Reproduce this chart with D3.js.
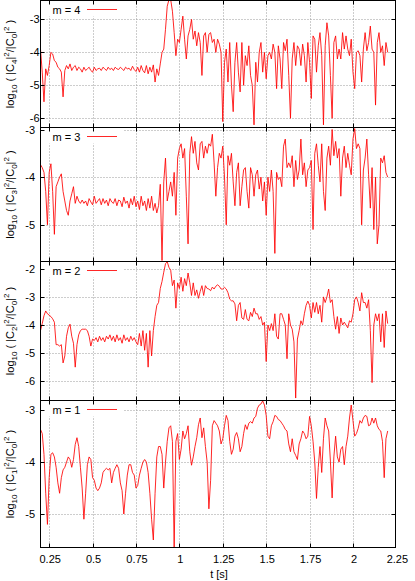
<!DOCTYPE html>
<html><head><meta charset="utf-8">
<script src="https://cdn.jsdelivr.net/npm/d3@7"></script>
<style>html,body{margin:0;padding:0;background:#fff;} svg{display:block;font-family:"Liberation Sans",Arial,Helvetica,sans-serif;}</style>
</head><body><svg id="chart" width="415" height="581"></svg>
<script>
// sampling of the time axis [s]
const tStart = 0.20, tStep = 0.01;

// log10(|C4|^2/|C0|^2)
const m4 = [
-3.9,-4.6,-5.5,-4.5,-4.7,-4.4,-4.0,-4.05,-4.25,-4.3,
-4.45,-4.5,-4.6,-5.35,-4.55,-4.4,-4.5,-4.35,-4.55,-4.45,
-4.4,-4.55,-4.45,-4.5,-4.6,-4.45,-4.55,-4.5,-4.45,-4.55,
-4.6,-4.45,-4.55,-4.5,-4.48,-4.55,-4.45,-4.5,-4.55,-4.45,
-4.52,-4.48,-4.55,-4.45,-4.5,-4.52,-4.45,-4.5,-4.55,-4.45,
-4.5,-4.48,-4.55,-4.42,-4.52,-4.58,-4.45,-4.6,-4.4,-4.55,
-4.62,-4.4,-4.65,-4.45,-4.6,-4.38,-4.9,-4.5,-4.7,-4.35,
-4.0,-3.9,-3.3,-2.6,-2.4,-2.4,-2.75,-3.4,-4.1,-3.6,
-3.7,-3.3,-2.9,-3.6,-4.2,-3.5,-3.3,-3.0,-3.6,-3.35,
-3.8,-3.4,-3.7,-4.7,-3.5,-3.4,-4.0,-3.45,-3.4,-3.7,
-3.6,-4.0,-3.6,-3.75,-4.0,-6.1,-4.3,-3.9,-4.9,-3.7,
-5.0,-5.8,-4.3,-3.7,-4.6,-5.2,-3.7,-5.0,-4.1,-4.4,
-3.8,-4.7,-5.0,-6.2,-4.3,-4.9,-4.0,-3.7,-4.6,-4.0,
-4.8,-4.1,-4.0,-4.2,-3.75,-4.0,-5.1,-3.8,-4.2,-5.1,
-3.7,-3.95,-3.6,-4.7,-6.0,-4.2,-3.7,-4.4,-3.8,-3.9,
-4.4,-3.75,-4.1,-4.9,-3.7,-4.3,-5.4,-3.5,-3.6,-4.6,
-3.8,-3.4,-4.1,-6.2,-3.8,-3.1,-3.5,-4.7,-6.0,-3.7,
-3.5,-4.2,-3.9,-4.2,-3.4,-3.9,-3.5,-3.9,-4.1,-3.6,
-4.6,-5.1,-4.0,-3.95,-4.1,-4.9,-3.9,-3.4,-3.95,-3.7,
-3.2,-3.9,-4.0,-5.6,-3.7,-3.4,-4.0,-3.8,-4.4,-3.7,
-4.0];

// log10(|C3|^2/|C0|^2)
const m3 = [
-3.74,-3.8,-3.9,-4.3,-5.0,-3.9,-3.72,-4.3,-5.2,-4.2,
-4.1,-4.0,-3.93,-4.3,-4.5,-4.7,-4.8,-4.5,-4.35,-4.2,
-4.55,-4.4,-4.5,-4.55,-4.48,-4.55,-4.5,-4.6,-4.45,-4.52,
-4.58,-4.4,-4.55,-4.5,-4.45,-4.58,-4.45,-4.55,-4.48,-4.6,
-4.45,-4.52,-4.55,-4.45,-4.6,-4.48,-4.5,-4.62,-4.42,-4.55,
-4.5,-4.65,-4.45,-4.58,-4.4,-4.62,-4.5,-4.68,-4.4,-4.6,
-4.5,-4.7,-4.45,-4.65,-4.4,-4.7,-4.55,-4.75,-4.6,-4.15,
-5.75,-4.1,-3.6,-4.5,-4.3,-4.1,-4.4,-3.9,-4.8,-3.6,
-3.4,-3.3,-3.6,-3.4,-4.4,-5.4,-3.5,-3.15,-3.5,-3.25,
-3.7,-3.85,-3.3,-3.25,-3.6,-3.35,-3.5,-3.3,-3.35,-3.1,
-3.7,-4.4,-3.8,-3.5,-3.6,-3.35,-4.0,-5.0,-3.55,-3.75,
-3.5,-4.1,-4.6,-3.9,-3.7,-4.6,-4.2,-3.85,-3.8,-4.3,
-4.65,-3.8,-3.95,-4.4,-3.95,-3.85,-4.25,-4.0,-4.5,-4.1,
-4.8,-4.0,-4.3,-3.85,-4.3,-5.6,-3.9,-4.05,-4.0,-4.2,
-3.35,-3.2,-3.8,-3.7,-3.8,-3.55,-4.2,-3.65,-4.05,-3.85,
-3.2,-3.95,-3.7,-4.2,-3.85,-3.8,-3.65,-5.1,-3.5,-3.3,
-3.75,-4.1,-3.3,-4.3,-4.7,-3.6,-3.35,-3.75,-3.0,-3.55,
-3.25,-3.6,-3.4,-4.4,-3.6,-3.35,-3.8,-3.5,-3.75,-3.95,
-3.2,-2.98,-3.4,-3.3,-3.4,-5.0,-3.85,-3.6,-3.2,-3.95,
-4.65,-3.8,-5.1,-4.0,-5.4,-5.0,-3.6,-3.7,-3.55,-3.9,
-4.0];

// log10(|C2|^2/|C0|^2)
const m2 = [
-4.2,-3.95,-3.67,-3.5,-3.6,-3.65,-3.7,-3.78,-3.9,-4.7,
-4.7,-4.75,-4.7,-5.35,-5.1,-4.4,-4.1,-3.97,-4.4,-4.65,
-5.5,-4.7,-4.35,-4.2,-4.15,-4.15,-4.15,-4.2,-4.4,-4.75,
-4.5,-4.55,-4.45,-4.6,-4.4,-4.55,-4.45,-4.6,-4.4,-4.5,
-4.35,-4.55,-4.4,-4.6,-4.35,-4.55,-4.45,-4.65,-4.35,-4.55,
-4.45,-4.6,-4.4,-4.55,-4.45,-4.6,-4.7,-4.3,-4.75,-4.2,
-4.9,-4.3,-5.5,-4.2,-5.1,-4.2,-3.7,-3.3,-3.2,-2.7,
-2.45,-2.12,-1.82,-1.75,-1.95,-2.05,-2.6,-2.4,-3.4,-2.5,
-2.7,-2.3,-2.8,-2.35,-2.6,-2.15,-2.5,-2.95,-2.5,-2.95,
-2.75,-3.05,-2.8,-2.6,-2.95,-2.6,-2.7,-2.72,-2.78,-2.65,
-2.72,-2.62,-2.57,-2.62,-2.72,-2.72,-2.66,-2.72,-2.85,-3.08,
-3.14,-3.14,-3.25,-3.85,-3.3,-3.2,-3.75,-3.8,-3.45,-3.8,
-3.85,-3.55,-3.7,-3.4,-3.6,-3.6,-3.8,-3.7,-4.0,-3.9,
-5.3,-4.0,-4.2,-3.95,-4.2,-3.6,-4.4,-4.5,-3.6,-3.6,
-3.8,-4.0,-5.2,-3.6,-4.0,-4.15,-4.6,-6.6,-4.5,-4.2,
-3.85,-4.0,-3.6,-3.3,-3.15,-3.3,-3.75,-3.2,-3.55,-3.2,
-3.6,-3.3,-3.9,-3.0,-3.2,-3.0,-2.72,-3.2,-3.1,-3.7,
-4.15,-3.7,-4.3,-3.75,-4.0,-3.9,-4.0,-4.1,-3.85,-3.9,
-3.6,-3.1,-3.0,-3.2,-3.5,-2.85,-3.2,-3.2,-3.4,-3.1,
-4.2,-6.05,-4.0,-3.6,-3.85,-3.6,-4.6,-3.6,-4.8,-3.5,
-3.95];

// log10(|C1|^2/|C0|^2)
const m1 = [
-3.37,-3.45,-3.85,-4.6,-5.2,-4.3,-3.85,-3.82,-3.9,-4.1,
-4.4,-4.6,-4.3,-4.15,-4.1,-4.0,-3.9,-3.95,-4.1,-3.95,
-3.66,-3.53,-3.7,-4.1,-4.5,-5.1,-4.6,-4.05,-3.9,-3.95,
-4.3,-4.35,-4.5,-4.55,-4.5,-4.4,-4.2,-4.15,-4.12,-4.15,
-4.12,-4.4,-4.2,-4.12,-4.05,-4.12,-4.4,-4.55,-5.0,-4.6,
-4.25,-4.05,-4.05,-4.2,-4.25,-4.5,-4.45,-4.25,-4.12,-4.0,
-3.95,-4.0,-4.2,-4.6,-5.1,-5.5,-4.6,-3.9,-3.7,-3.7,
-3.85,-4.5,-4.0,-3.6,-3.34,-3.3,-3.6,-5.65,-3.6,-3.45,
-3.95,-3.75,-3.4,-3.55,-3.45,-3.3,-3.8,-4.06,-3.9,-3.7,
-3.53,-3.28,-3.15,-3.53,-3.34,-3.7,-4.0,-4.9,-4.35,-3.3,
-3.2,-3.25,-3.3,-3.4,-3.65,-3.55,-3.3,-3.1,-3.2,-3.6,
-3.85,-3.75,-3.5,-3.43,-3.55,-3.8,-3.7,-3.45,-3.28,-3.37,
-3.25,-3.22,-3.25,-3.15,-3.12,-2.96,-2.9,-2.88,-2.82,-2.9,
-3.1,-3.5,-3.55,-3.3,-3.22,-3.1,-3.12,-3.18,-3.2,-3.25,
-3.3,-3.37,-3.4,-3.65,-3.8,-3.55,-3.8,-3.87,-3.95,-3.65,
-3.55,-3.4,-3.45,-3.55,-3.5,-3.12,-3.3,-3.6,-4.0,-4.7,
-4.1,-3.7,-4.2,-3.55,-3.15,-3.3,-3.4,-3.98,-4.69,-3.9,
-3.5,-3.9,-4.0,-3.75,-3.7,-4.05,-3.7,-3.5,-3.15,-2.9,
-3.2,-3.5,-3.45,-3.35,-3.2,-3.25,-3.15,-3.1,-3.12,-3.3,
-3.28,-3.15,-3.25,-3.15,-3.3,-3.37,-3.4,-3.6,-4.3,-3.55,
-3.4];

const xTicks = [0.25, 0.5, 0.75, 1, 1.25, 1.5, 1.75, 2, 2.25];
const xTickLabels = ["0.25", "0.5", "0.75", "1", "1.25", "1.5", "1.75", "2", "2.25"];
const modes = [4, 3, 2, 1];
const seriesList = [m4, m3, m2, m1];
const yDomains = [[-6.28, -2.425], [-5.77, -2.958], [-6.687, -1.74], [-5.645, -2.813]];
const yTickSets = [[-6, -5, -4, -3], [-5, -4, -3], [-6, -5, -4, -3, -2], [-5, -4, -3]];

// layout
const L = 40.5, R = 395.5;
const panelBounds = [[0.5, 127.5], [127.5, 261.5], [261.5, 400.5], [400.5, 547.5]];
const tickLabelRight = [39.5, 35, 35, 35];

const svg = d3.select("#chart");
const x = d3.scaleLinear().domain([0.2, 2.245]).range([L, R]);
const red = "#ff0000";
const FS = 11;

seriesList.forEach((vals, p) => {
  const [top, bottom] = panelBounds[p];
  const y = d3.scaleLinear().domain(yDomains[p]).range([bottom, top]);
  const g = svg.append("g");
  const clipId = "clip" + p;
  svg.append("clipPath").attr("id", clipId).append("rect")
    .attr("x", L).attr("y", top).attr("width", R - L).attr("height", bottom - top);

  // grid
  const grid = g.append("g").attr("stroke", "#9a9a9a").attr("stroke-width", 1).attr("stroke-dasharray", "1,2");
  xTicks.filter(v => x(v) > L + 1 && x(v) < R - 1).forEach(v => {
    const xx = Math.round(x(v)) + 0.5;
    grid.append("line").attr("x1", xx).attr("x2", xx).attr("y1", top).attr("y2", bottom);
  });
  yTickSets[p].forEach(v => {
    const yy = Math.round(y(v)) + 0.5;
    grid.append("line").attr("x1", L).attr("x2", R).attr("y1", yy).attr("y2", yy);
  });

  // data
  const data = vals.map((v, i) => ({t: tStart + i * tStep, v}));
  const line = d3.line().x(d => x(d.t)).y(d => y(d.v));
  g.append("path").datum(data).attr("clip-path", `url(#${clipId})`)
    .attr("fill", "none").attr("stroke", red).attr("stroke-width", 0.85)
    .attr("stroke-linejoin", "round").attr("d", line);

  // legend (opaque key)
  g.append("rect").attr("x", L + 1).attr("y", top + 2).attr("width", 82).attr("height", 14).attr("fill", "#fff");
  g.append("text").attr("x", 52.5).attr("y", top + 13).attr("font-size", FS).attr("fill", "#000")
    .text("m = " + modes[p]);
  g.append("line").attr("x1", 87).attr("x2", 117).attr("y1", top + 9).attr("y2", top + 9)
    .attr("stroke", red).attr("stroke-width", 0.85);

  // frame
  g.append("rect").attr("x", L).attr("y", top).attr("width", R - L).attr("height", bottom - top)
    .attr("fill", "none").attr("stroke", "#000").attr("stroke-width", 1);

  // ticks (inward, mirrored)
  const tk = g.append("g").attr("stroke", "#000").attr("stroke-width", 1);
  xTicks.filter(v => x(v) > L + 1 && x(v) < R - 1).forEach(v => {
    const xx = Math.round(x(v)) + 0.5;
    tk.append("line").attr("x1", xx).attr("x2", xx).attr("y1", bottom).attr("y2", bottom - 4);
    tk.append("line").attr("x1", xx).attr("x2", xx).attr("y1", top).attr("y2", top + 4);
  });
  yTickSets[p].forEach(v => {
    const yy = Math.round(y(v)) + 0.5;
    tk.append("line").attr("x1", L).attr("x2", L + 4).attr("y1", yy).attr("y2", yy);
    tk.append("line").attr("x1", R).attr("x2", R - 4).attr("y1", yy).attr("y2", yy);
    g.append("text").attr("x", tickLabelRight[p]).attr("y", y(v) + 4).attr("text-anchor", "end")
      .attr("font-size", FS).attr("fill", "#000").text(String(v).replace("−", "-"));
  });

  // y label
  const cy = (top + bottom) / 2;
  const lab = g.append("text").attr("transform", `translate(14,${cy}) rotate(-90)`)
    .attr("text-anchor", "middle").attr("font-size", FS).attr("fill", "#000");
  lab.append("tspan").text("log");
  lab.append("tspan").attr("font-size", 8).attr("dy", 3).text("10");
  lab.append("tspan").attr("dy", -3).text(" ( |C");
  lab.append("tspan").attr("font-size", 8).attr("dy", 3).text(modes[p]);
  lab.append("tspan").attr("dy", -3).text("|");
  lab.append("tspan").attr("font-size", 8).attr("dy", -5).text("2");
  lab.append("tspan").attr("dy", 5).text("/|C");
  lab.append("tspan").attr("font-size", 8).attr("dy", 3).text("0");
  lab.append("tspan").attr("dy", -3).text("|");
  lab.append("tspan").attr("font-size", 8).attr("dy", -5).text("2");
  lab.append("tspan").attr("dy", 5).text(" )");
});

// x tick labels (bottom panel only)
xTicks.forEach((v, i) => {
  svg.append("text").attr("x", x(v) + 1).attr("y", 563).attr("text-anchor", "middle")
    .attr("font-size", FS).attr("fill", "#000").text(xTickLabels[i]);
});
svg.append("text").attr("x", 219).attr("y", 578).attr("text-anchor", "middle")
  .attr("font-size", FS).attr("fill", "#000").text("t [s]");
</script>
</body></html>
